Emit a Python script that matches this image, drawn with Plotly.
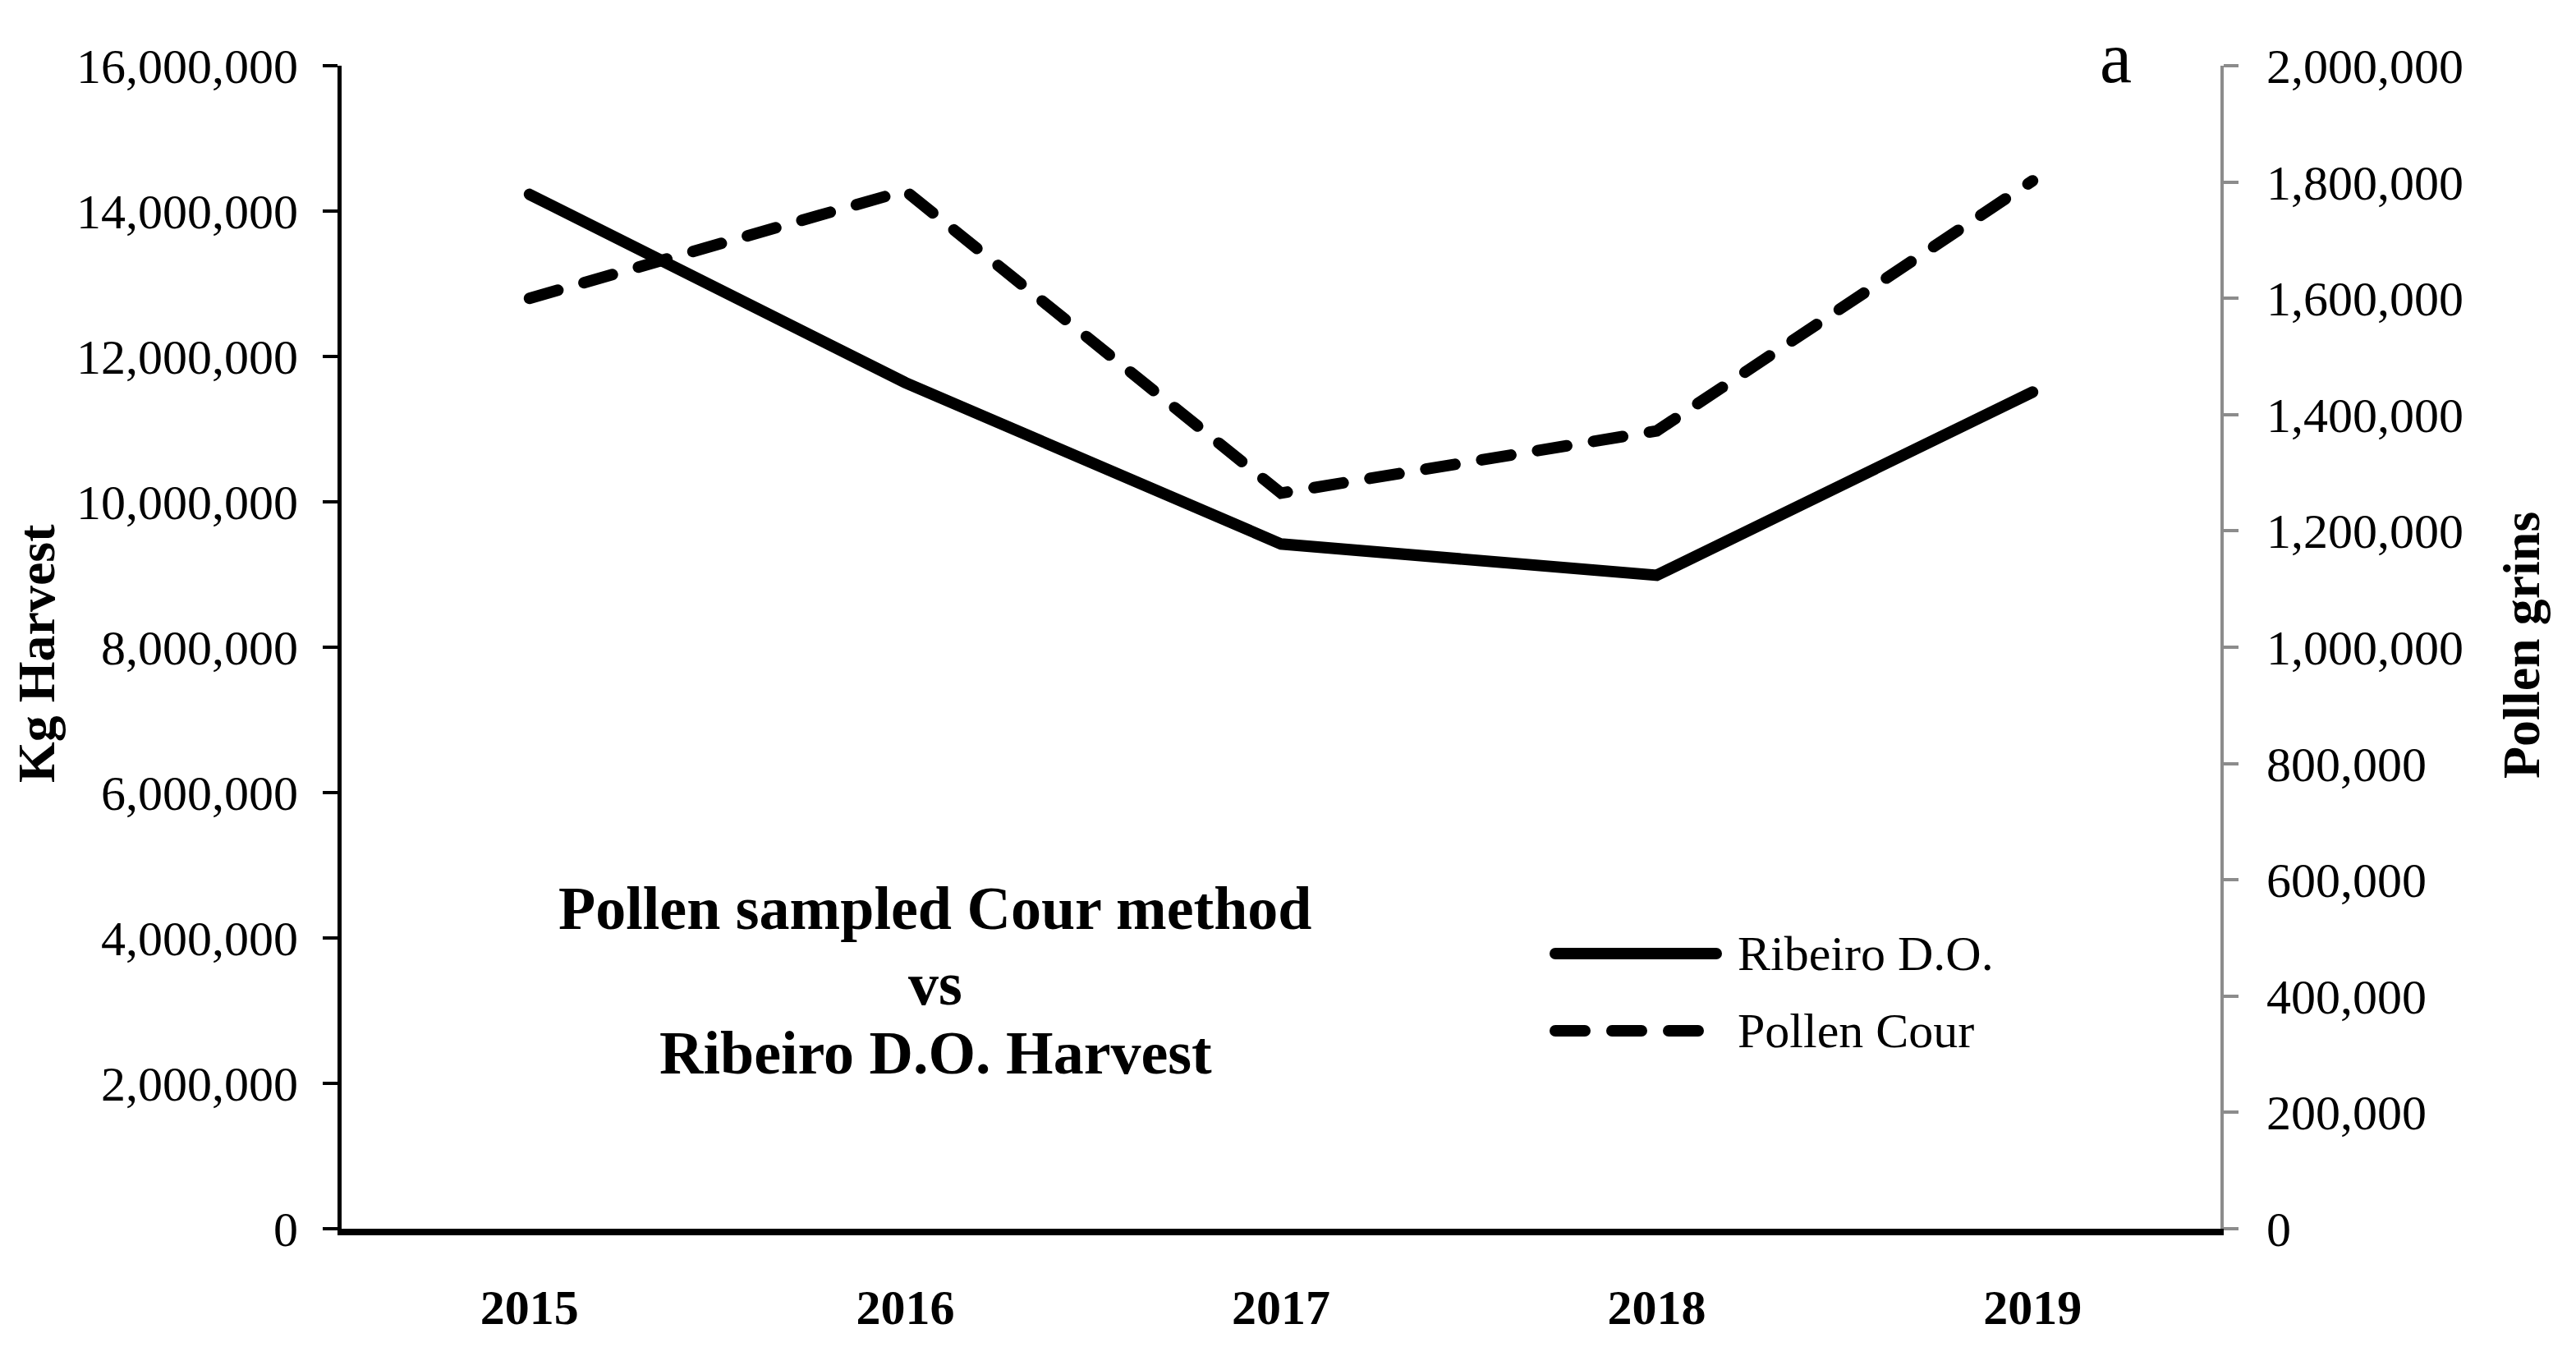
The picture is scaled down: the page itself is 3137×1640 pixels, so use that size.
import plotly.graph_objects as go

# ---------------- data ----------------
years = ["2015", "2016", "2017", "2018", "2019"]
ribeiro_kg = [14230000, 11640000, 9420000, 8990000, 11510000]
pollen_cour = [1600000, 1785000, 1265000, 1372000, 1802000]

left_ticks = [0, 2000000, 4000000, 6000000, 8000000, 10000000, 12000000, 14000000, 16000000]
right_ticks = [0, 200000, 400000, 600000, 800000, 1000000, 1200000, 1400000, 1600000, 1800000, 2000000]

title_lines = ["Pollen sampled Cour method", "vs", "Ribeiro D.O. Harvest"]
series_names = ["Ribeiro D.O.", "Pollen Cour"]

# ---------------- layout geometry (pixels) ----------------
W, H = 3137, 1640
L, R, T, B = 416, 2704, 80, 1496


def px(x):
    return (x - L) / (R - L)


def py(y):
    return (B - y) / (B - T)


FONT = "Times New Roman, Liberation Serif, serif"
DASH = "36px,33px"

fig = go.Figure()
fig.add_trace(go.Scatter(
    x=years, y=ribeiro_kg, name=series_names[0], mode="lines",
    line=dict(color="black", width=14), yaxis="y", showlegend=False,
))
fig.add_trace(go.Scatter(
    x=years, y=pollen_cour, name=series_names[1], mode="lines",
    line=dict(color="black", width=14, dash=DASH), yaxis="y2", showlegend=False,
))

annotations = []
# panel letter
annotations.append(dict(text="a", x=px(2576), y=py(70), xref="paper", yref="paper",
                        showarrow=False, xanchor="center", yanchor="middle",
                        font=dict(family=FONT, size=88, color="black")))
# centred title block
for txt, yy in zip(title_lines, [1106, 1198, 1282]):
    annotations.append(dict(text=txt, x=px(1139), y=py(yy), xref="paper", yref="paper",
                            showarrow=False, xanchor="center", yanchor="middle",
                            font=dict(family=FONT, size=74, color="black", weight="bold")))
# legend text
for txt, yy in zip(series_names, [1161, 1255]):
    annotations.append(dict(text=txt, x=px(2114), y=py(yy), xref="paper", yref="paper",
                            showarrow=False, xanchor="left", yanchor="middle",
                            font=dict(family=FONT, size=60, color="black")))
# axis titles
annotations.append(dict(text="Kg Harvest", x=px(44), y=py(796), xref="paper", yref="paper",
                        showarrow=False, xanchor="center", yanchor="middle", textangle=-90,
                        font=dict(family=FONT, size=64, color="black", weight="bold")))
annotations.append(dict(text="Pollen grins", x=px(3070), y=py(786), xref="paper", yref="paper",
                        showarrow=False, xanchor="center", yanchor="middle", textangle=-90,
                        font=dict(family=FONT, size=64, color="black", weight="bold")))

shapes = [
    dict(type="line", xref="paper", yref="paper", x0=px(1894), x1=px(2090), y0=py(1161), y1=py(1161),
         line=dict(color="black", width=14)),
    dict(type="line", xref="paper", yref="paper", x0=px(1894), x1=px(2090), y0=py(1255), y1=py(1255),
         line=dict(color="black", width=14, dash=DASH)),
]

fig.update_layout(
    width=W, height=H,
    margin=dict(l=L, r=W - R, t=T, b=H - B, pad=0),
    paper_bgcolor="white", plot_bgcolor="white",
    font=dict(family=FONT, color="black"),
    showlegend=False,
    xaxis=dict(
        type="category", categoryorder="array", categoryarray=years,
        range=[-0.5, 4.5], showline=True, linecolor="black", linewidth=8,
        ticks="", showgrid=False, zeroline=False,
        tickfont=dict(family=FONT, size=60, color="black", weight="bold"),
        ticklabelstandoff=36,
    ),
    yaxis=dict(
        range=[0, 16000000], tickvals=left_ticks, tickformat=",d",
        showline=True, linecolor="black", linewidth=5,
        ticks="outside", ticklen=18, tickwidth=4, tickcolor="black",
        showgrid=False, zeroline=False,
        tickfont=dict(family=FONT, size=60, color="black"),
        ticklabelstandoff=18,
    ),
    yaxis2=dict(
        overlaying="y", side="right",
        range=[0, 2000000], tickvals=right_ticks, tickformat=",d",
        showline=True, linecolor="#8c8c8c", linewidth=4,
        ticks="outside", ticklen=18, tickwidth=4, tickcolor="#8c8c8c",
        showgrid=False, zeroline=False,
        tickfont=dict(family=FONT, size=60, color="black"),
        ticklabelstandoff=22,
    ),
    annotations=annotations,
    shapes=shapes,
)

post = (
    "document.body.style.margin='0';"
    "var s=document.createElement('style');"
    "s.textContent='.js-line, .shapelayer path{stroke-linecap:round !important;}';"
    "document.head.appendChild(s);"
)

fig.write_html("out.html", config={"displayModeBar": False}, post_script=post)
